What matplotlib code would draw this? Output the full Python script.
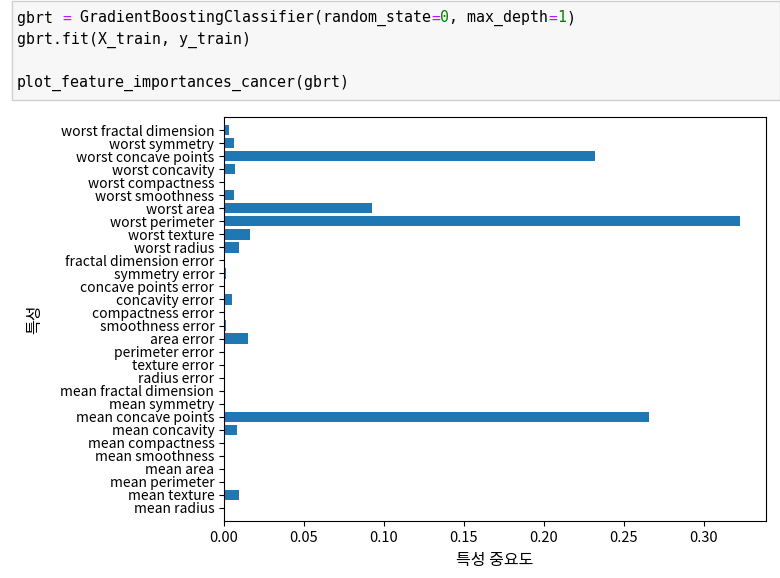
import numpy as np
import matplotlib
matplotlib.use("Agg")
import matplotlib.pyplot as plt

plt.rcParams['font.family'] = ['Noto Sans CJK KR', 'DejaVu Sans']

# breast cancer feature names (bottom to top)
feature_names = [
    "mean radius", "mean texture", "mean perimeter", "mean area",
    "mean smoothness", "mean compactness", "mean concavity",
    "mean concave points", "mean symmetry", "mean fractal dimension",
    "radius error", "texture error", "perimeter error", "area error",
    "smoothness error", "compactness error", "concavity error",
    "concave points error", "symmetry error", "fractal dimension error",
    "worst radius", "worst texture", "worst perimeter", "worst area",
    "worst smoothness", "worst compactness", "worst concavity",
    "worst concave points", "worst symmetry", "worst fractal dimension",
]
importances = [
    0.0, 0.0094, 0.0, 0.0, 0.0, 0.0, 0.0079, 0.2656, 0.0, 0.0,
    0.0, 0.0, 0.0, 0.0148, 0.001, 0.0, 0.0048, 0.0, 0.001, 0.0,
    0.0094, 0.016, 0.3228, 0.0925, 0.0065, 0.0, 0.0069, 0.2318, 0.0065, 0.0031,
]
code_lines = [
    [("gbrt ", "#000000"), ("=", "#aa22ff"), (" GradientBoostingClassifier(random_state", "#000000"),
     ("=", "#aa22ff"), ("0", "#008000"), (", max_depth", "#000000"), ("=", "#aa22ff"),
     ("1", "#008000"), (")", "#000000")],
    [("gbrt.fit(X_train, y_train)", "#000000")],
    [],
    [("plot_feature_importances_cancer(gbrt)", "#000000")],
]

fig = plt.figure(figsize=(7.8, 5.78), dpi=100)
renderer = fig.canvas.get_renderer()

# notebook code cell
cell = plt.Rectangle((12 / 780, 1 - 100 / 578), 1 - 12 / 780, 99 / 578,
                     transform=fig.transFigure, facecolor="#f7f7f7",
                     edgecolor="#cfcfcf", linewidth=1)
fig.add_artist(cell)
for i, line in enumerate(code_lines):
    x = 17
    y = 578 - (18 + i * 21.7)
    for txt, col in line:
        t = fig.text(x / 780, y / 578, txt, color=col, family="DejaVu Sans Mono",
                     fontsize=10.7, va="center", ha="left")
        x = t.get_window_extent(renderer).x1

ax = fig.add_axes([224 / 780, 1 - 521 / 578, (766 - 224) / 780, (521 - 117) / 578])
n = len(feature_names)
ax.barh(range(n), importances, align="center", color="#1f77b4")
ax.set_yticks(np.arange(n))
ax.set_yticklabels(feature_names, fontsize=10)
ax.set_ylim(-1, n)
ax.tick_params(axis="x", labelsize=10.5)
ax.set_xlabel("특성 중요도", fontsize=11.5, labelpad=5)
ax.set_ylabel("특성", fontsize=11.5)
ax.yaxis.set_label_coords((43 - 224) / 542, 0.5)

fig.savefig("out.png", dpi=100)
